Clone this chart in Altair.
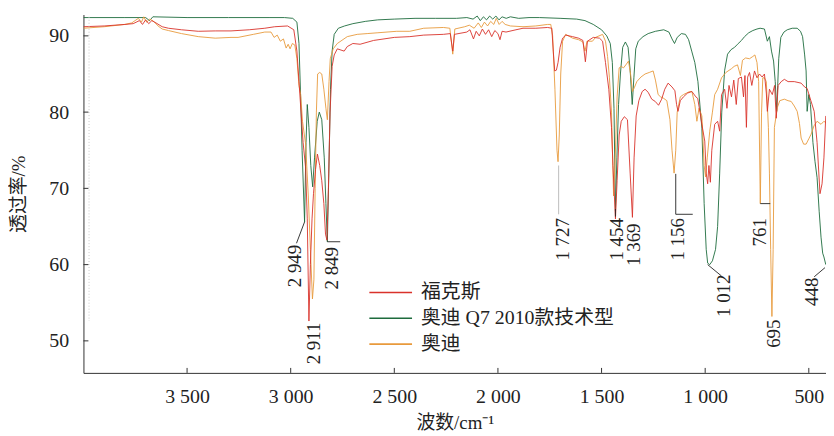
import altair as alt
import pandas as pd

# ---------------- data ----------------
series_names = ["福克斯", "奥迪 Q7 2010款技术型", "奥迪"]
series_colors = ["#d9322b", "#1d6b3c", "#e89a3c"]

# 福克斯 (red)
fox_wn = [4000, 3900, 3800, 3760, 3730, 3715, 3700, 3685, 3670, 3650, 3620, 3590, 3527, 3446, 3364, 3288, 3200, 3125, 3077, 3015,
          2985, 2970, 2960, 2950, 2940, 2928, 2920, 2912, 2905, 2897, 2890, 2880, 2871, 2860, 2850, 2840, 2832, 2825, 2818, 2810,
          2800, 2790, 2775, 2742, 2727, 2700, 2665, 2600, 2500, 2425, 2358, 2263, 2230, 2218, 2210, 2150, 2135, 2118, 2105, 2090,
          2075, 2060, 2045, 2030, 2015, 2000, 1990, 1980, 1961, 1913, 1879, 1817, 1760, 1740, 1733, 1726, 1718, 1710, 1700, 1688,
          1673, 1640, 1611, 1590, 1578, 1568, 1540, 1510, 1495, 1481, 1465, 1452, 1445, 1433, 1425, 1415, 1405, 1390, 1375, 1362,
          1351, 1343, 1333, 1320, 1304, 1290, 1275, 1258, 1241, 1225, 1210, 1195, 1179, 1160, 1146, 1138, 1131, 1120, 1105, 1085,
          1064, 1045, 1036, 1025, 1016, 1002, 995, 988, 982, 975, 968, 954, 940, 930, 921, 906, 895, 885, 873, 862,
          850, 840, 825, 815, 808, 801, 795, 786, 775, 762, 750, 738, 725, 714, 705, 700, 690, 676, 665, 657,
          648, 633, 618, 600, 570, 537, 520, 508, 490, 474, 460, 446, 436, 427, 418]
fox_t = [91.2, 91.3, 91.5, 91.6, 92.0, 91.5, 92.1, 91.6, 92.0, 91.7, 91.2, 91.0, 90.8, 90.6, 90.65, 90.65, 90.8, 91.0, 91.2, 91.3,
         90.8, 88.0, 84.0, 80.0, 76.0, 72.7, 66.0, 52.6, 60.0, 66.0, 69.3, 72.5, 74.5, 73.0, 71.0, 68.0, 64.0, 63.2, 70.0, 80.0,
         86.0, 87.5, 88.3, 88.0, 88.6, 89.0, 88.9, 89.4, 89.8, 89.9, 90.1, 90.2, 90.3, 88.0, 90.2, 90.5, 90.8, 89.6, 90.6, 90.0,
         90.9, 90.2, 90.8, 89.9, 90.7, 90.3, 89.5, 90.6, 90.5, 90.8, 91.0, 91.0, 91.1, 91.0, 88.0, 85.4, 85.5, 86.5, 88.5, 89.7,
         90.1, 89.9, 89.7, 89.4, 86.6, 89.3, 89.8, 89.7, 89.3, 86.5, 83.0, 78.0, 73.0, 66.0, 71.0, 77.0, 78.8, 79.4, 79.0, 72.0,
         66.2, 74.0, 79.5, 81.5, 82.7, 83.0, 82.6, 81.7, 81.4, 80.9, 81.7, 83.0, 83.8, 83.3, 82.8, 81.0, 80.1, 81.5, 82.0, 82.5,
         82.7, 82.0, 81.8, 80.0, 78.4, 76.2, 72.0, 70.6, 73.0, 70.8, 75.0, 78.4, 78.8, 77.5, 82.3, 83.0, 80.5, 83.5, 82.0, 84.2,
         81.0, 84.4, 84.6, 82.0, 84.8, 78.0, 84.6, 85.2, 83.5, 85.4, 84.5, 85.0, 84.6, 85.0, 82.5, 80.1, 83.0, 82.3, 83.5, 79.2,
         83.5, 84.0, 84.3, 84.0, 84.0, 83.8, 83.3, 83.1, 81.5, 80.1, 76.0, 69.3, 70.6, 74.0, 79.5]

# 奥迪 Q7 2010款技术型 (green)
q7_wn = [4000, 3800, 3700, 3681, 3665, 3500, 3300, 3100, 3030, 2990, 2970, 2960, 2952, 2945, 2933, 2926, 2920, 2912, 2903, 2894,
         2885, 2872, 2862, 2850, 2838, 2830, 2823, 2816, 2808, 2800, 2790, 2770, 2740, 2700, 2640, 2580, 2500, 2400, 2300, 2200,
         2150, 2120, 2100, 2085, 2070, 2055, 2040, 2025, 2010, 1995, 1980, 1960, 1940, 1900, 1850, 1800, 1700, 1620, 1580, 1540,
         1500, 1475, 1458, 1448, 1440, 1433, 1426, 1418, 1409, 1398, 1385, 1372, 1362, 1352, 1344, 1335, 1323, 1300, 1275, 1240,
         1200, 1175, 1160, 1148, 1135, 1115, 1095, 1080, 1065, 1050, 1035, 1016, 1005, 995, 988, 978, 965, 950, 940, 930,
         920, 906, 892, 875, 858, 844, 825, 810, 790, 770, 750, 735, 714, 700, 690, 680, 670, 662, 655, 650,
         645, 635, 620, 604, 580, 556, 540, 530, 520, 513, 508, 500, 492, 480, 470, 460, 450, 441, 433, 427, 418]
q7_t = [92.4, 92.4, 92.4, 92.0, 92.5, 92.4, 92.4, 92.4, 92.4, 92.3, 91.8, 89.0, 82.0, 75.0, 65.6, 76.0, 81.0, 78.0, 73.0, 70.2,
        74.0, 78.8, 80.0, 79.0, 74.0, 68.0, 63.0, 72.0, 83.0, 88.0, 90.2, 91.0, 91.3, 91.6, 91.9, 92.1, 92.2, 92.3, 92.3, 92.3,
        92.4, 92.2, 92.6, 92.0, 92.5, 92.1, 92.6, 92.2, 92.6, 92.1, 92.5, 92.3, 92.5, 92.3, 92.4, 92.4, 92.3, 92.2, 92.0, 91.5,
        90.8, 90.0, 89.0, 86.5, 80.5, 67.1, 74.0, 81.0, 85.0, 88.5, 89.2, 88.5, 85.5, 81.0, 84.5, 88.3, 89.3, 89.9, 90.3, 90.6,
        90.8, 90.5, 89.6, 89.0, 89.8, 90.3, 90.2, 89.5, 88.0, 86.5, 84.0, 77.9, 68.0, 62.0, 60.2, 60.0, 60.5, 62.0, 65.0, 72.0,
        80.0, 85.5, 87.6, 88.2, 88.5, 88.9, 89.4, 89.9, 90.4, 90.7, 90.9, 91.0, 90.9, 89.3, 89.9, 88.0, 86.7, 84.0, 80.1, 83.5,
        87.0, 89.8, 90.5, 90.8, 91.0, 91.0, 90.6, 89.9, 87.5, 85.4, 80.1, 82.3, 81.0, 76.0, 73.5, 71.4, 67.0, 63.6, 61.5, 61.0, 60.0]

# 奥迪 (orange)
audi_wn = [4000, 3900, 3800, 3767, 3735, 3720, 3709, 3695, 3680, 3661, 3640, 3620, 3590, 3527, 3446, 3364, 3288, 3254, 3180, 3125,
           3095, 3080, 3065, 3050, 3035, 3022, 3012, 3003, 2992, 2980, 2970, 2960, 2952, 2943, 2928, 2915, 2905, 2895, 2888, 2882,
           2876, 2870, 2860, 2850, 2840, 2830, 2823, 2815, 2809, 2795, 2775, 2727, 2679, 2631, 2583, 2488, 2425, 2358, 2263, 2232,
           2218, 2208, 2160, 2138, 2115, 2095, 2080, 2065, 2050, 2035, 2020, 2008, 1994, 1980, 1965, 1940, 1879, 1817, 1760, 1745,
           1736, 1725, 1715, 1710, 1704, 1697, 1688, 1673, 1640, 1611, 1590, 1580, 1570, 1544, 1529, 1495, 1481, 1471, 1462, 1452,
           1442, 1434, 1425, 1415, 1405, 1394, 1380, 1370, 1360, 1351, 1342, 1330, 1310, 1290, 1270, 1251, 1240, 1227, 1215, 1200,
           1185, 1170, 1160, 1150, 1142, 1135, 1120, 1105, 1090, 1075, 1064, 1050, 1040, 1030, 1016, 1005, 998, 990, 978, 965,
           954, 940, 921, 900, 873, 860, 844, 830, 820, 805, 786, 770, 760, 750, 742, 734, 728, 722, 714, 705,
           695, 690, 684, 678, 672, 666, 652, 640, 618, 600, 585, 570, 556, 545, 537, 525, 513, 500, 489, 475,
           460, 441, 427, 418]
audi_t = [91.0, 91.2, 91.5, 91.7, 92.3, 91.8, 92.5, 91.8, 92.2, 91.9, 91.3, 90.9, 90.7, 90.3, 89.9, 89.7, 89.8, 89.8, 90.2, 90.5,
          90.5, 89.8, 90.1, 89.3, 89.6, 88.4, 88.9, 88.3, 89.0, 88.8, 87.0, 83.5, 82.3, 78.8, 75.8, 69.0, 62.0, 55.5, 58.0, 70.0,
          80.0, 85.0, 85.2, 85.0, 83.0, 80.5, 79.0, 84.0, 87.0, 88.3, 89.0, 89.9, 90.2, 90.3, 90.4, 90.6, 90.6, 91.0, 91.1, 91.0,
          87.6, 90.9, 91.2, 91.4, 91.0, 91.7, 91.1, 91.8, 91.3, 91.9, 91.5, 92.3, 91.5, 91.9, 91.5, 91.3, 91.2, 91.3, 91.5, 91.5,
          90.0, 83.0, 75.0, 73.5, 77.0, 85.0, 89.3, 90.2, 89.7, 89.5, 89.2, 88.0, 89.3, 89.3, 89.8, 90.2, 89.3, 87.3, 84.5, 80.0,
          69.0, 74.0, 82.0, 85.8, 86.0, 85.8, 86.3, 86.7, 85.0, 82.7, 83.2, 84.0, 84.6, 85.0, 85.2, 85.4, 84.2, 82.3, 82.0, 81.8,
          81.5, 79.0, 75.0, 72.0, 75.0, 80.0, 82.0, 82.3, 82.5, 82.7, 82.7, 81.0, 78.8, 80.5, 79.5, 73.0, 71.5, 74.0, 77.5, 80.0,
          82.3, 83.0, 84.5, 85.2, 85.7, 86.0, 86.2, 84.8, 86.8, 87.1, 87.0, 87.3, 87.5, 86.5, 84.0, 68.0, 80.0, 84.5, 84.5, 84.0,
          78.0, 72.0, 62.0, 53.2, 62.0, 78.0, 80.6, 81.5, 81.7, 81.5, 81.4, 80.8, 80.1, 78.5, 76.6, 75.8, 75.8, 76.5, 77.1, 78.2,
          78.8, 78.4, 78.8, 78.6]

x_ticks = [3500, 3000, 2500, 2000, 1500, 1000, 500]
y_ticks = [50, 60, 70, 80, 90]

peak_labels = ["2 949", "2 849", "2 911", "1 727", "1 454", "1 369", "1 156", "1 012", "761", "695", "448"]
peak_label_wn = [2981, 2799, 2885, 1688, 1427, 1343, 1132, 907, 735, 668, 486]
peak_label_t = [62.6, 62.3, 52.4, 66.1, 66.1, 65.4, 66.1, 58.7, 66.1, 52.8, 58.3]

leader_wn1 = [2933, 2823, 1707, 1433, 1142, 1142, 988, 734, 422]
leader_t1 = [65.6, 63.0, 73.0, 67.3, 71.9, 66.6, 60.0, 68.0, 59.6]
leader_wn2 = [2972, 2761, 1707, 1433, 1142, 1060, 921, 686, 474]
leader_t2 = [62.8, 63.0, 66.6, 66.3, 66.6, 66.6, 58.5, 68.0, 58.4]
leader_of = ["2 949", "2 849", "1 727", "1 454", "1 156", "1 156", "1 012", "761", "448"]

# ---------------- chart ----------------
W, H = 748, 361
FONT = "Liberation Serif, Noto Sans CJK SC"
xs = alt.Scale(domain=[417, 4000], reverse=True, nice=False, zero=False)
ys = alt.Scale(domain=[45.8, 92.8], nice=False, zero=False)

X = alt.X("wn:Q", scale=xs, title="波数/cm⁻¹",
          axis=alt.Axis(values=x_ticks, labelExpr="replace(format(datum.value, ','), ',', ' ')",
                        labelPadding=14, titlePadding=7, labelFlush=False,
                        labelFont=FONT, titleFont=FONT))
Y = alt.Y("t:Q", scale=ys, title="透过率/%",
          axis=alt.Axis(values=y_ticks, labelPadding=15, titlePadding=20,
                        labelFont=FONT, titleFont=FONT))


def spectrum(wn, t, color):
    df = pd.DataFrame({"wn": wn, "t": t})
    return alt.Chart(df).mark_line(color=color, strokeWidth=1.0, opacity=0.9, clip=True).encode(
        x=X, y=Y, order="wn:Q")


q7_layer = spectrum(q7_wn, q7_t, series_colors[1])
audi_layer = spectrum(audi_wn, audi_t, series_colors[2])
fox_layer = spectrum(fox_wn, fox_t, series_colors[0])

# faint dotted trace at the left edge
edge = alt.Chart(pd.DataFrame({"wn": [3973], "t": [92.5], "t2": [52.6]})).mark_rule(
    color="#c8c8c8", strokeDash=[1, 2], strokeWidth=1).encode(x=X, y=Y, y2="t2:Q")

# inward ticks
xt = alt.Chart(pd.DataFrame({"wn": x_ticks})).mark_rule(color="#333").encode(
    x=X, y=alt.value(H), y2=alt.value(H - 5))
yt = alt.Chart(pd.DataFrame({"t": y_ticks})).mark_rule(color="#333").encode(
    y=Y, x=alt.value(0), x2=alt.value(5))

# leader lines
ld = pd.DataFrame({"wn": leader_wn1, "t": leader_t1, "wn2": leader_wn2, "t2": leader_t2, "lab": leader_of})
leaders = alt.Chart(ld).mark_rule(strokeWidth=0.9).encode(
    x=X, y=Y, x2="wn2:Q", y2="t2:Q",
    color=alt.condition("datum.lab == '1 727'", alt.value("#b5b5b5"), alt.value("#222")))

# peak labels
lb = pd.DataFrame({"wn": peak_label_wn, "t": peak_label_t, "label": peak_labels})
labels = alt.Chart(lb).mark_text(angle=270, align="right", baseline="middle", fontSize=19,
                                 font=FONT, color="#222").encode(x=X, y=Y, text="label:N")

# manual legend (one row per series)
legend_layers = []
for i, (name, col) in enumerate(zip(series_names, series_colors)):
    ypix = 280 + 26 * i
    row = pd.DataFrame({"name": [name]})
    legend_layers.append(alt.Chart(row).mark_rule(color=col, strokeWidth=1.6).encode(
        x=alt.value(288), x2=alt.value(331), y=alt.value(ypix)))
    legend_layers.append(alt.Chart(row).mark_text(align="left", baseline="middle", fontSize=20,
                                                  font=FONT, color="#222").encode(
        x=alt.value(340), y=alt.value(ypix), text="name:N"))

chart = alt.layer(q7_layer, audi_layer, fox_layer, edge, xt, yt, leaders, labels, *legend_layers).properties(
    width=W, height=H,
    padding={"left": 76, "top": 5, "right": 0, "bottom": 62},
    autosize=alt.AutoSizeParams(type="none"),
).configure(background="white", font=FONT).configure_view(stroke=None).configure_axis(
    grid=False, ticks=False, labelFontSize=20, titleFontSize=19, labelFont=FONT, titleFont=FONT,
    domainColor="#333", labelColor="#222", titleColor="#222", titleFontWeight="normal")

chart.save("out.html", embed_options={"renderer": "svg", "actions": False})
